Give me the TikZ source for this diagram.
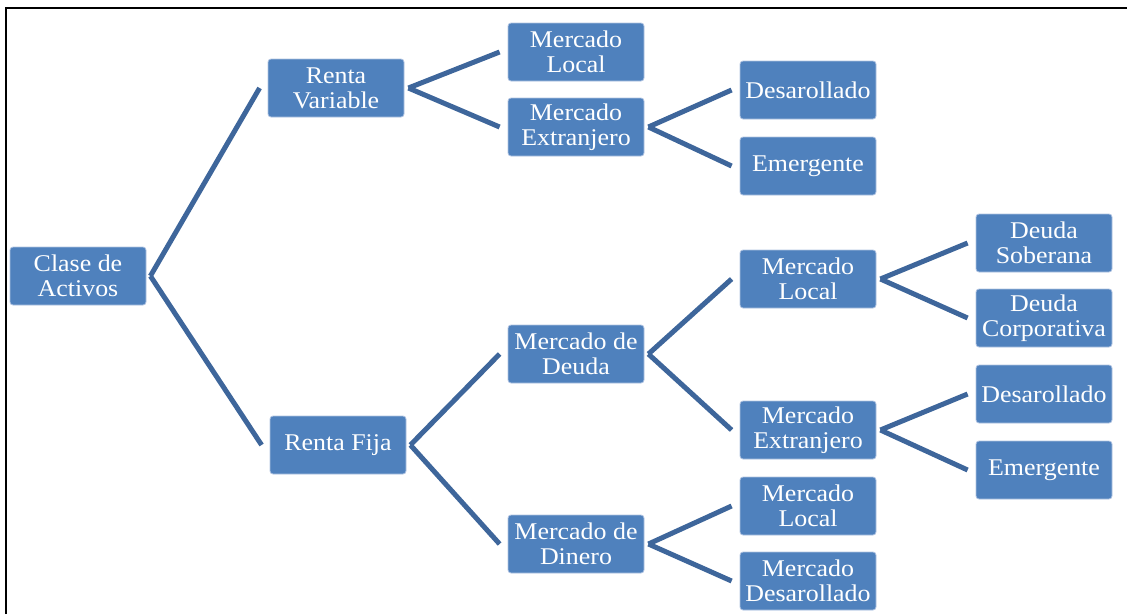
\documentclass[tikz,border=0pt]{standalone}
\usepackage{fontspec}
\setmainfont{Liberation Serif}
\newfontfamily\boxfont[FakeStretch=1.08]{Liberation Serif}
\usetikzlibrary{calc}
\definecolor{boxfill}{RGB}{79,129,189}
\definecolor{boxedge}{RGB}{175,195,225}
\definecolor{linkcol}{RGB}{62,102,155}
\tikzset{
  box/.style={draw=boxedge, line width=0.8pt, fill=boxfill, rounded corners=3pt,
    minimum width=136pt, minimum height=58pt, inner sep=0pt, align=center,
    text=white, font=\boxfont\fontsize{24}{25}\selectfont},
  link/.style={draw=linkcol, line width=5pt},
  frame/.style={draw=black, line width=2pt}
}
\newcommand{\lnk}[2]{\draw[link] ($(#1.east)+(4,0)$) -- ($(#2.west)+(-8,0)$);}
\begin{document}
\begin{tikzpicture}[x=1pt,y=-1pt]
\useasboundingbox (0,0) rectangle (1127,614);
\coordinate (fa) at (6,614);
\coordinate (fb) at (6,8);
\coordinate (fc) at (1127,8);
\draw[frame] (fa) -- (fb) -- (fc);

\node[box] (clase) at (78,276) {Clase de\\Activos};
\node[box] (rv) at (336,88) {Renta\\Variable};
\node[box] (rf) at (338,445) {Renta Fija};
\node[box] (ml1) at (576,52) {Mercado\\Local};
\node[box] (me1) at (576,127) {Mercado\\Extranjero};
\node[box] (des1) at (808,90) {Desarollado};
\node[box] (em1) at (808,166) {Emergente};
\node[box] (mdeu) at (576,354) {Mercado de\\Deuda};
\node[box] (mdin) at (576,544) {Mercado de\\Dinero};
\node[box] (ml2) at (808,279) {Mercado\\Local};
\node[box] (me2) at (808,430) {Mercado\\Extranjero};
\node[box] (ml3) at (808,506) {Mercado\\Local};
\node[box] (mdes) at (808,581) {Mercado\\Desarollado};
\node[box] (dsob) at (1044,243) {Deuda\\Soberana};
\node[box] (dcor) at (1044,318) {Deuda\\Corporativa};
\node[box] (des2) at (1044,394) {Desarollado};
\node[box] (em2) at (1044,470) {Emergente};

\lnk{clase}{rv}
\lnk{clase}{rf}
\lnk{rv}{ml1}
\lnk{rv}{me1}
\lnk{me1}{des1}
\lnk{me1}{em1}
\lnk{rf}{mdeu}
\lnk{rf}{mdin}
\lnk{mdeu}{ml2}
\lnk{mdeu}{me2}
\lnk{mdin}{ml3}
\lnk{mdin}{mdes}
\lnk{ml2}{dsob}
\lnk{ml2}{dcor}
\lnk{me2}{des2}
\lnk{me2}{em2}
\end{tikzpicture}
\end{document}
